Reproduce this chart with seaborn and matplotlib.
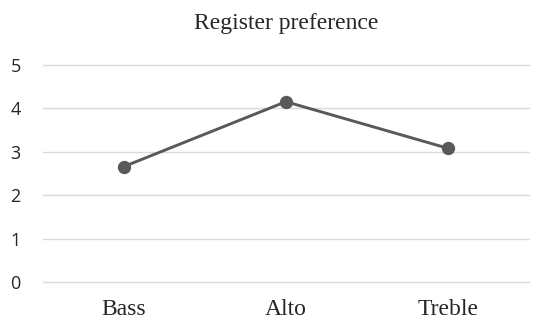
import matplotlib
matplotlib.use("Agg")
import matplotlib.pyplot as plt
import seaborn as sns
import pandas as pd

categories = ["Bass", "Alto", "Treble"]
values = [2.66, 4.15, 3.08]
y_ticks = [0, 1, 2, 3, 4, 5]

df = pd.DataFrame({"register": categories, "score": values})

sns.set_theme(style="white")
fig = plt.figure(figsize=(5.44, 3.24), dpi=100)
ax = fig.add_axes([0.079, 0.1287, 0.893, 0.6716])

sns.pointplot(data=df, x="register", y="score", color="#595959",
              markers="o", linestyles="-", ax=ax,
              markersize=8, linewidth=2.1)

ax.set_ylim(0, 5)
ax.set_xlim(-0.5, 2.5)
ax.set_yticks(y_ticks)
ax.yaxis.grid(True, color="#d9d9d9", linewidth=1.0)
for gl in ax.get_ygridlines():
    gl.set_clip_on(False)
ax.set_axisbelow(True)
for s in ax.spines.values():
    s.set_visible(False)
ax.tick_params(axis="both", length=0)
ax.tick_params(axis="y", pad=16)
ax.tick_params(axis="x", pad=12)
ax.set_xlabel("")
ax.set_ylabel("")

for lab in ax.get_yticklabels():
    lab.set_fontfamily("Open Sans")
    lab.set_fontsize(13)
    lab.set_color("#262626")
for lab in ax.get_xticklabels():
    lab.set_fontfamily("Liberation Serif")
    lab.set_fontsize(17)
    lab.set_color("#262626")

ax.set_title("Register preference", fontfamily="Liberation Serif",
             fontsize=17, color="#262626", pad=26)

fig.savefig("out.png", dpi=100)
